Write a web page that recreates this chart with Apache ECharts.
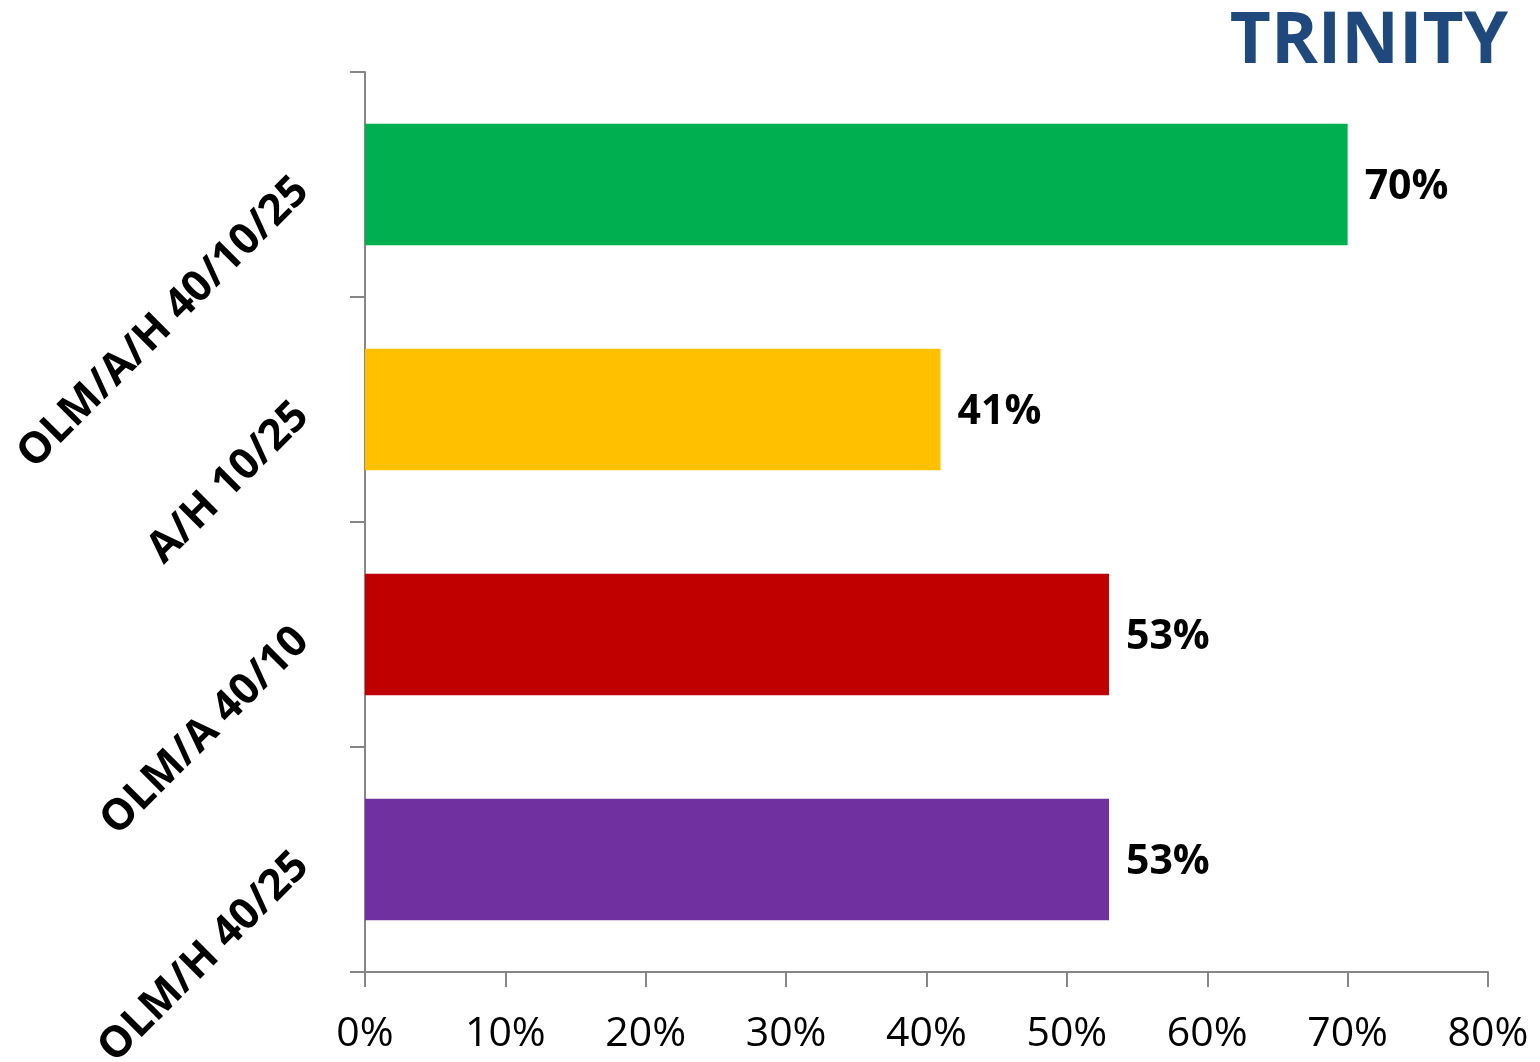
<!DOCTYPE html>
<html>
<head>
<meta charset="utf-8">
<title>TRINITY</title>
<script src="https://cdn.jsdelivr.net/npm/echarts@6/dist/echarts.min.js"></script>
<style>
  html, body { margin: 0; padding: 0; background: #ffffff; }
  #chart { width: 1540px; height: 1062px; }
</style>
</head>
<body>
<div id="chart"></div>
<script>
// Treatment arms, listed top to bottom
const categories = ['OLM/A/H 40/10/25', 'A/H 10/25', 'OLM/A 40/10', 'OLM/H 40/25'];
// Share of patients reaching the goal, in percent
const values = [70, 41, 53, 53];
const barColors = ['#00B050', '#FFC000', '#C00000', '#7030A0'];
// Value axis ticks (percent)
const xTicks = [0, 10, 20, 30, 40, 50, 60, 70, 80];

const chart = echarts.init(document.getElementById('chart'), null, { renderer: 'canvas' });

const axisGrey = '#868686';

chart.setOption({
  animation: false,
  backgroundColor: '#ffffff',
  title: {
    text: 'TRINITY',
    right: 27,
    top: 2,
    textStyle: {
      fontFamily: 'Open Sans',
      fontWeight: 'bold',
      fontSize: 71,
      color: '#1F497D'
    }
  },
  grid: {
    left: 365,
    right: 52,
    top: 72,
    bottom: 90,
    containLabel: false,
    outerBoundsMode: 'none'
  },
  xAxis: {
    type: 'value',
    min: xTicks[0],
    max: xTicks[xTicks.length - 1],
    interval: 10,
    splitLine: { show: false },
    axisLine: { show: true, lineStyle: { color: axisGrey, width: 2 } },
    axisTick: { show: true, length: 15, lineStyle: { color: axisGrey, width: 2 } },
    axisLabel: {
      margin: 42,
      fontFamily: 'Open Sans',
      fontSize: 41,
      color: '#000000',
      formatter: v => v + '%'
    }
  },
  yAxis: {
    type: 'category',
    data: categories,
    inverse: true,
    axisLine: { show: true, lineStyle: { color: axisGrey, width: 2 } },
    axisTick: { show: true, length: 15, lineStyle: { color: axisGrey, width: 2 } },
    axisLabel: {
      rotate: 45,
      margin: 63,
      fontFamily: 'Open Sans',
      fontWeight: 'bold',
      fontSize: 43,
      color: '#000000'
    }
  },
  series: [{
    type: 'bar',
    data: values.map((v, i) => ({ value: v, itemStyle: { color: barColors[i] } })),
    barWidth: '54%',
    label: {
      show: true,
      position: 'right',
      distance: 17,
      offset: [0, 3],
      fontFamily: 'Open Sans',
      fontWeight: 'bold',
      fontSize: 41,
      color: '#000000',
      formatter: p => p.value + '%'
    }
  }]
});
</script>
</body>
</html>
